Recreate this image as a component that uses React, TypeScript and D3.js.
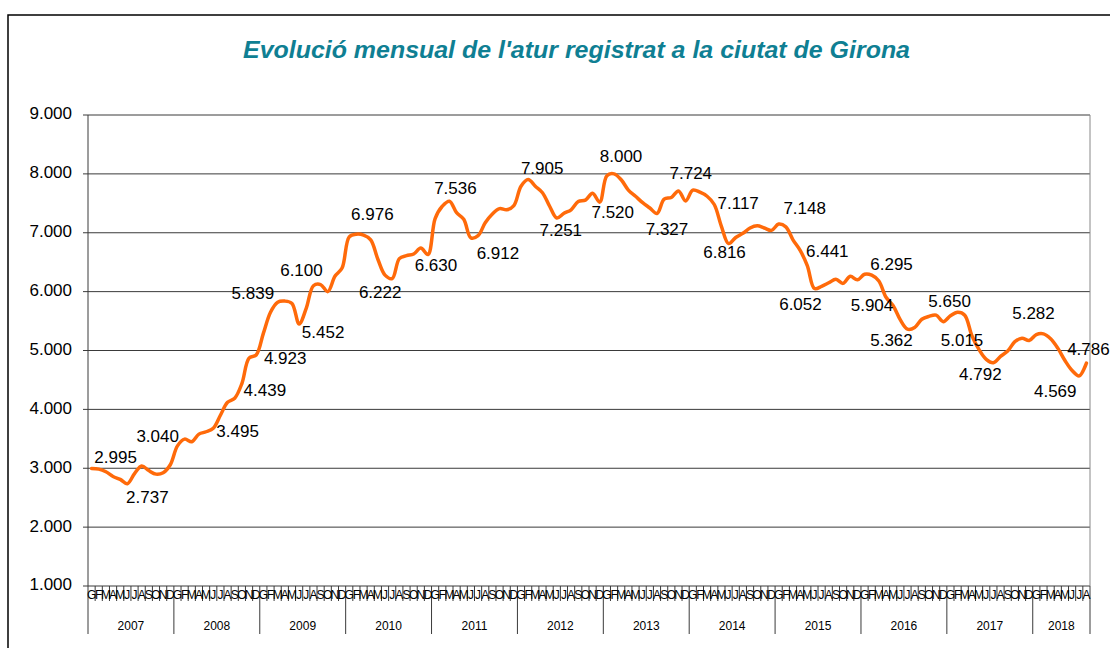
import React from "react";
import * as d3 from "d3";

const MONTH_LETTERS = ["G", "F", "M", "A", "M", "J", "J", "A", "S", "O", "N", "D"];
const YEARS = ["2007", "2008", "2009", "2010", "2011", "2012", "2013", "2014", "2015", "2016", "2017", "2018"];

const Y_TICKS = [1000, 2000, 3000, 4000, 5000, 6000, 7000, 8000, 9000];

// registered unemployment, Jan 2007 .. Aug 2018
const VALUES_2007 = [2995, 2985, 2940, 2860, 2810, 2737, 2910, 3040, 2960, 2900, 2925, 3060];
const VALUES_2008 = [3380, 3495, 3450, 3580, 3620, 3680, 3900, 4120, 4190, 4439, 4870, 4923];
const VALUES_2009 = [5290, 5650, 5820, 5839, 5800, 5452, 5720, 6100, 6120, 6000, 6260, 6400];
const VALUES_2010 = [6930, 6976, 6960, 6880, 6550, 6280, 6222, 6560, 6610, 6640, 6740, 6630];
const VALUES_2011 = [7240, 7450, 7536, 7340, 7230, 6912, 6950, 7170, 7320, 7410, 7390, 7460];
const VALUES_2012 = [7790, 7905, 7790, 7680, 7450, 7251, 7330, 7390, 7530, 7555, 7670, 7520];
const VALUES_2013 = [7970, 8000, 7900, 7725, 7620, 7510, 7420, 7327, 7570, 7600, 7710, 7540];
const VALUES_2014 = [7724, 7690, 7620, 7480, 7110, 6816, 6920, 6990, 7080, 7117, 7080, 7040];
const VALUES_2015 = [7148, 7100, 6880, 6700, 6441, 6052, 6090, 6150, 6210, 6140, 6260, 6200];
const VALUES_2016 = [6295, 6280, 6180, 5904, 5760, 5520, 5362, 5390, 5530, 5580, 5600, 5490];
const VALUES_2017 = [5590, 5650, 5600, 5250, 5015, 4850, 4792, 4900, 4990, 5150, 5210, 5170];
const VALUES_2018 = [5270, 5282, 5200, 5040, 4830, 4660, 4569, 4786];

const VALUES = [
  ...VALUES_2007, ...VALUES_2008, ...VALUES_2009, ...VALUES_2010, ...VALUES_2011, ...VALUES_2012,
  ...VALUES_2013, ...VALUES_2014, ...VALUES_2015, ...VALUES_2016, ...VALUES_2017, ...VALUES_2018,
];

// indices of the months that carry a data label
const LABELED = [0, 5, 7, 13, 21, 23, 27, 29, 31, 37, 42, 47, 50, 53, 61, 65, 71, 73, 79, 84, 89, 93, 96, 100, 101, 108, 111, 114, 121, 124, 126, 133, 138, 139];
// label placement (style): offset of label centre from its point
const LABEL_OFFSETS: [number, number][] = [
  [24, -10], [20, 15], [16, -28], [53, -7], [23, 8], [29, 4], [-32, -7], [24, 10], [-12, -14], [16, -19],
  [-12, 15], [8, 12], [6, -12], [27, 17], [14, -10], [4, 14], [13, 11], [7, -16], [10, 17], [-2, -16],
  [-4, 10], [-19, -21], [26, -15], [20, -13], [-14, 17], [27, -9], [-14, 9], [-16, 12], [-8, -10], [-17, -8],
  [-13, 13], [-10, -19], [-24, 17], [2, -13],
];

const W = 1110;
const H = 648;
const M = { left: 88, right: 1090, top: 115, bottom: 586 };
const FONT = "'Liberation Sans', Arial, Helvetica, sans-serif";

const fmt = d3.formatLocale({ decimal: ",", thousands: ".", grouping: [3], currency: ["", "€"] }).format(",d");

export default function App() {
  const n = VALUES.length;
  const x = d3.scaleBand<number>().domain(d3.range(n)).range([M.left, M.right]).paddingInner(0).paddingOuter(0);
  const y = d3.scaleLinear().domain([1000, 9000]).range([M.bottom, M.top]);
  const cx = (i: number) => (x(i) as number) + x.bandwidth() / 2;

  const line = d3
    .line<number>()
    .x((_, i) => cx(i))
    .y((d) => y(d))
    .curve(d3.curveCatmullRom.alpha(0.5));

  const yearStarts = YEARS.map((_, k) => k * 12);
  const yearEnds = YEARS.map((_, k) => Math.min(n, (k + 1) * 12));

  return (
    <svg width={W} height={H} style={{ position: "absolute", left: 0, top: 0, background: "#fff" }} fontFamily={FONT}>
      <rect x={8} y={15} width={W + 20} height={H + 20} fill="#fff" stroke="#000" strokeWidth={1.5} />
      <text x={576.5} y={52} textAnchor="middle" dominantBaseline="middle" fontSize={24} fontWeight="bold" fontStyle="italic" fill="#0F7F93" textLength={667} lengthAdjust="spacingAndGlyphs">
        Evolució mensual de l'atur registrat a la ciutat de Girona
      </text>

      {/* gridlines */}
      {Y_TICKS.map((t) => (
        <g key={t}>
          <line x1={M.left - 5} x2={M.right} y1={y(t)} y2={y(t)} stroke="#3a3a3a" strokeWidth={1} />
          <text x={72} y={y(t)} textAnchor="end" dominantBaseline="middle" fontSize={17} fill="#000">
            {fmt(t)}
          </text>
        </g>
      ))}
      {/* plot area borders */}
      <line x1={M.left} x2={M.left} y1={M.top} y2={M.bottom} stroke="#3a3a3a" strokeWidth={1} />
      <line x1={M.right} x2={M.right} y1={M.top} y2={M.bottom} stroke="#888" strokeWidth={1} />

      {/* month ticks and letters */}
      {d3.range(n + 1).map((i) => {
        const xx = i < n ? (x(i) as number) : M.right;
        const isYear = i % 12 === 0 || i === n;
        return <line key={"t" + i} x1={xx} x2={xx} y1={M.bottom} y2={isYear ? 634 : 601} stroke="#3a3a3a" strokeWidth={1} />;
      })}
      {d3.range(n).map((i) => (
        <text key={"m" + i} x={cx(i)} y={596} textAnchor="middle" dominantBaseline="middle" fontSize={12} fill="#000">
          {MONTH_LETTERS[i % 12]}
        </text>
      ))}
      {YEARS.map((yr, k) => {
        const a = x(yearStarts[k]) as number;
        const b = yearEnds[k] < n ? (x(yearEnds[k]) as number) : M.right;
        return (
          <text key={yr} x={(a + b) / 2} y={627} textAnchor="middle" dominantBaseline="middle" fontSize={12} fill="#000">
            {yr}
          </text>
        );
      })}

      {/* series */}
      <path d={line(VALUES) || ""} fill="none" stroke="#FF6A0A" strokeWidth={3.5} strokeLinejoin="round" strokeLinecap="round" />

      {/* data labels */}
      {LABELED.map((i, k) => {
        const [dx, dy] = LABEL_OFFSETS[k];
        return (
          <text key={"l" + i} x={cx(i) + dx} y={y(VALUES[i]) + dy} textAnchor="middle" dominantBaseline="middle" fontSize={17} fill="#000">
            {fmt(VALUES[i])}
          </text>
        );
      })}
    </svg>
  );
}
